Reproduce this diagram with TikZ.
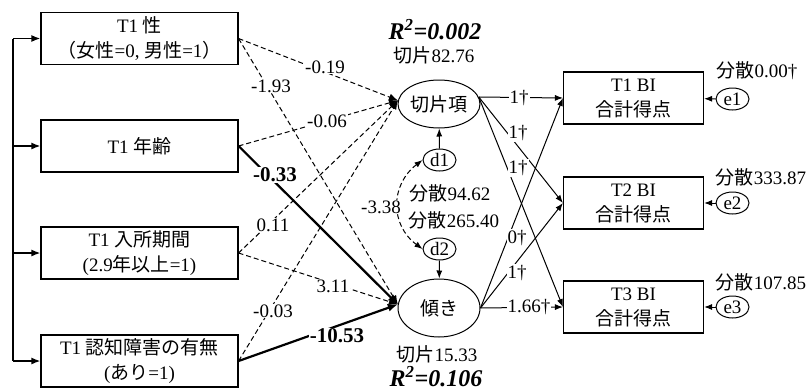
\documentclass[tikz,border=0pt]{standalone}
\usepackage{fontspec}
\setmainfont{Liberation Serif}
\newfontfamily\jpfont{Noto Sans CJK JP}
\newcommand\jp[1]{{\jpfont #1}}
\usetikzlibrary{arrows.meta,shapes.geometric}
\begin{document}
\begin{tikzpicture}[x=1pt,y=-1pt,
  font=\fontsize{19}{25}\selectfont,
  box/.style={draw, line width=1.1pt, minimum width=197pt, minimum height=52pt, inner sep=0pt, align=center},
  obox/.style={draw, line width=1.1pt, minimum width=140pt, minimum height=52pt, inner sep=0pt, align=center},
  lat/.style={draw, ellipse, line width=1pt, minimum width=82pt, minimum height=48pt, inner sep=0pt},
  err/.style={draw, ellipse, line width=1pt, minimum width=33pt, minimum height=22pt, inner sep=0pt},
  dpath/.style={dash pattern=on 5pt off 3pt, line width=1pt, -{Latex[length=9pt,width=7pt]}},
  spath/.style={line width=2.2pt, -{Latex[length=10pt,width=8pt]}},
  tpath/.style={line width=1pt, -{Latex[length=8pt,width=6pt]}},
  brpath/.style={line width=1.6pt, -{Latex[length=9pt,width=7pt]}},
  lbl/.style={fill=white, inner sep=1pt},
  txt/.style={inner sep=0pt},
  bl/.style={fill=white, inner sep=1pt, font=\fontsize{21}{25}\selectfont\bfseries},
  rsq/.style={inner sep=0pt, font=\fontsize{24}{24}\selectfont\bfseries\itshape},
]
\fill[white] (0,0) rectangle (810,391);
\useasboundingbox (0,0) rectangle (810,391);

% predictor boxes
\node[box] (sex) at (139.5,38.5) {T1 \jp{性}\\\jp{（女性}=0, \jp{男性}=1\jp{）}};
\node[box] (age) at (139.5,146) {T1 \jp{年齢}};
\node[box] (dur) at (139.5,253) {T1 \jp{入所期間}\\(2.9\jp{年以上}=1)};
\node[box] (cog) at (139.5,361) {T1 \jp{認知障害の有無}\\(\jp{あり}=1)};

% left bracket
\coordinate (brT) at (13,38.5);
\coordinate (brB) at (13,361);
\draw[line width=1.6pt] (brT) -- (brB);
\draw[brpath] (brT) -- (sex.west);
\draw[brpath] (age.west -| brT) -- (age.west);
\draw[brpath] (dur.west -| brT) -- (dur.west);
\draw[brpath] (brB) -- (cog.west);

% latent variables
\node[lat] (I) at (439,104) {\jp{切片項}};
\node[lat, minimum height=58pt] (S) at (439,308) {\jp{傾き}};
\node[err] (d1) at (439.5,160) {d1};
\node[err] (d2) at (439.5,249) {d2};

% outcome boxes
\node[obox] (B1) at (633.5,98) {T1 BI\\\jp{合計得点}};
\node[obox] (B2) at (633.5,203) {T2 BI\\\jp{合計得点}};
\node[obox] (B3) at (633.5,307) {T3 BI\\\jp{合計得点}};
\node[err] (e1) at (732.5,99) {e1};
\node[err] (e2) at (732.5,203) {e2};
\node[err] (e3) at (732.5,307) {e3};

% regressions
\draw[dpath] (sex.east) -- (I.175);
\draw[dpath] (sex.east) -- (S.175);
\draw[dpath] (age.east) -- (I.175);
\draw[spath] (age.east) -- (S.175);
\draw[dpath] (dur.east) -- (I.175);
\draw[dpath] (dur.east) -- (S.175);
\draw[dpath] (cog.east) -- (I.175);
\draw[spath] (cog.east) -- (S.175);

% loadings
\draw[tpath] (I.10) -- (B1.west);
\draw[tpath] (I.10) -- (B2.west);
\draw[tpath] (I.10) -- (B3.west);
\draw[tpath] (S.east) -- (B1.west);
\draw[tpath] (S.east) -- (B2.west);
\draw[tpath] (S.east) -- (B3.west);

% disturbances and errors
\draw[tpath] (d1) -- (I);
\draw[tpath] (d2) -- (S);
\draw[tpath] (e1) -- (B1);
\draw[tpath] (e2) -- (B2);
\draw[tpath] (e3) -- (B3);
\draw[dash pattern=on 5pt off 3pt, line width=1pt, {Latex[length=8pt,width=6pt]}-{Latex[length=8pt,width=6pt]}]
  (d1.west) .. controls (390,185) and (390,225) .. (d2.west);

% path labels
\node[lbl] (l1) at (325,67) {-0.19};
\node[lbl] (l2) at (271,86) {-1.93};
\node[lbl] (l3) at (327,121) {-0.06};
\node[bl] (l4) at (275,175) {-0.33};
\node[lbl] (l5) at (273,225) {0.11};
\node[lbl] (l6) at (333,286) {3.11};
\node[lbl] (l7) at (273,311) {-0.03};
\node[bl] (l8) at (337,336) {-10.53};
\node[lbl] (m1) at (519,98) {1†};
\node[lbl] (m2) at (518,133) {1†};
\node[lbl] (m3) at (518,168) {1†};
\node[lbl] (m4) at (517,238) {0†};
\node[lbl] (m5) at (517,273) {1†};
\node[lbl] (m6) at (529,307) {1.66†};
\node[lbl] (cv) at (381,207) {-3.38};

% variance / intercept labels
\node[txt] (vd1) at (450,193) {\jp{分散}94.62};
\node[txt] (vd2) at (454,220) {\jp{分散}265.40};
\node[txt] (ve1) at (757,71) {\jp{分散}0.00†};
\node[txt] (ve2) at (761,177) {\jp{分散}333.87};
\node[txt] (ve3) at (761,282) {\jp{分散}107.85};
\node[txt] (ic1) at (434,55) {\jp{切片}82.76};
\node[txt] (ic2) at (437,354) {\jp{切片}15.33};
\node[rsq] (r1) at (435,30) {R\textsuperscript{2}=0.002};
\node[rsq] (r2) at (436,377) {R\textsuperscript{2}=0.106};
\end{tikzpicture}
\end{document}
